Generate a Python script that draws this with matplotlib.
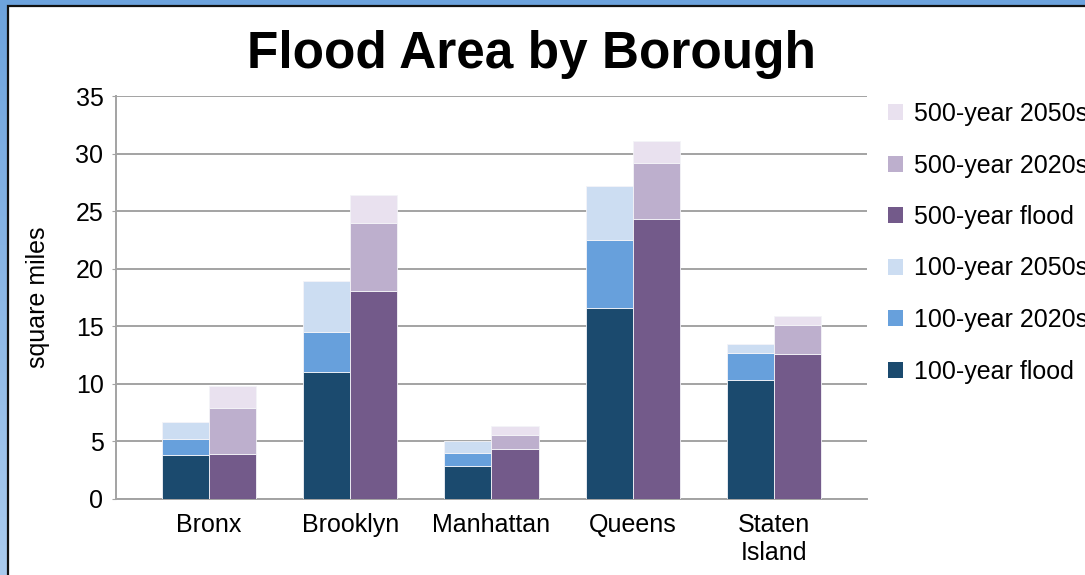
import numpy as np
import matplotlib.pyplot as plt
from matplotlib.patches import Rectangle, Patch
from matplotlib.colors import LinearSegmentedColormap

plt.rcParams['font.family'] = ['Liberation Sans', 'DejaVu Sans']

# ----------------------------
# data: flood area (square miles), cumulative totals per scenario
# ----------------------------
boroughs = ["Bronx", "Brooklyn", "Manhattan", "Queens", "Staten\nIsland"]

flood_100 = [3.8, 11.0, 2.9, 16.6, 10.3]
flood_100_2020s = [5.2, 14.5, 4.0, 22.5, 12.7]
flood_100_2050s = [6.7, 18.9, 5.0, 27.2, 13.5]

flood_500 = [3.9, 18.1, 4.3, 24.3, 12.6]
flood_500_2020s = [7.9, 24.0, 5.6, 29.2, 15.1]
flood_500_2050s = [9.8, 26.4, 6.3, 31.1, 15.9]

labels_100 = ["100-year flood", "100-year 2020s", "100-year 2050s"]
labels_500 = ["500-year flood", "500-year 2020s", "500-year 2050s"]
colors_100 = ["#1b4a6e", "#67a0dc", "#ccddf2"]
colors_500 = ["#735a8a", "#bdafcd", "#e9e1ef"]

# ----------------------------
# figure with a blue frame
# ----------------------------
fig = plt.figure(figsize=(10.85, 5.75), dpi=100)

bg = fig.add_axes([0, 0, 1, 1], zorder=-10)
grad = np.linspace(0, 1, 256).reshape(-1, 1)
frame_cmap = LinearSegmentedColormap.from_list("frame", ["#6da3dd", "#aacbee"])
bg.imshow(grad, aspect="auto", cmap=frame_cmap, extent=[0, 1, 0, 1], origin="upper")
bg.set_axis_off()
bg.add_patch(Rectangle((8 / 1085, -0.1), 1.2, 1.1 - 6 / 575,
                       transform=bg.transAxes, facecolor="white",
                       edgecolor="#111111", linewidth=1.6, clip_on=False))

ax = fig.add_axes([116 / 1085, 1 - 499 / 575, (867 - 116) / 1085, (499 - 96) / 575])
ax.set_facecolor("none")

x = np.arange(len(boroughs))
w = 1 / 3

def draw_stack(offset, totals, colors, labels):
    bottom = np.zeros(len(boroughs))
    for tot, c, lab in zip(totals, colors, labels):
        tot = np.array(tot)
        ax.bar(x + offset, tot - bottom, w, bottom=bottom, color=c,
               edgecolor="#f4f4f8", linewidth=0.6, label=lab, zorder=3)
        bottom = tot

draw_stack(-w / 2, [flood_100, flood_100_2020s, flood_100_2050s], colors_100, labels_100)
draw_stack(w / 2, [flood_500, flood_500_2020s, flood_500_2050s], colors_500, labels_500)

ax.set_xlim(-0.66, 4.66)
ax.set_ylim(0, 35)
ax.set_yticks(range(0, 36, 5))
ax.yaxis.grid(True, color="#a3a3a3", linewidth=1.4, zorder=0)
ax.set_axisbelow(True)

for s in ["top", "right"]:
    ax.spines[s].set_visible(False)
for s in ["left", "bottom"]:
    ax.spines[s].set_color("#a3a3a3")
    ax.spines[s].set_linewidth(1.4)

ax.set_xticks(x)
ax.set_xticklabels(boroughs, fontsize=18, linespacing=1.2)
ax.tick_params(axis="x", length=0, pad=10)
ax.tick_params(axis="y", labelsize=18, length=3, color="#a3a3a3", pad=6)
ax.set_ylabel("square miles", fontsize=18, labelpad=18)

fig.text(0.49, 0.905, "Flood Area by Borough", fontsize=37, fontweight="bold",
         ha="center", va="center")

# legend: 500-year series on top, reversed order
handles = [Patch(facecolor=c, edgecolor="none") for c in colors_500[::-1] + colors_100[::-1]]
leg_labels = labels_500[::-1] + labels_100[::-1]
fig.legend(handles, leg_labels, loc="upper left", bbox_to_anchor=(888 / 1085, 1 - 102 / 575),
           frameon=False, fontsize=18, handlelength=0.6, handleheight=0.6,
           handletextpad=0.45, labelspacing=1.1, borderpad=0, borderaxespad=0)

fig.savefig("out.png", dpi=100)
